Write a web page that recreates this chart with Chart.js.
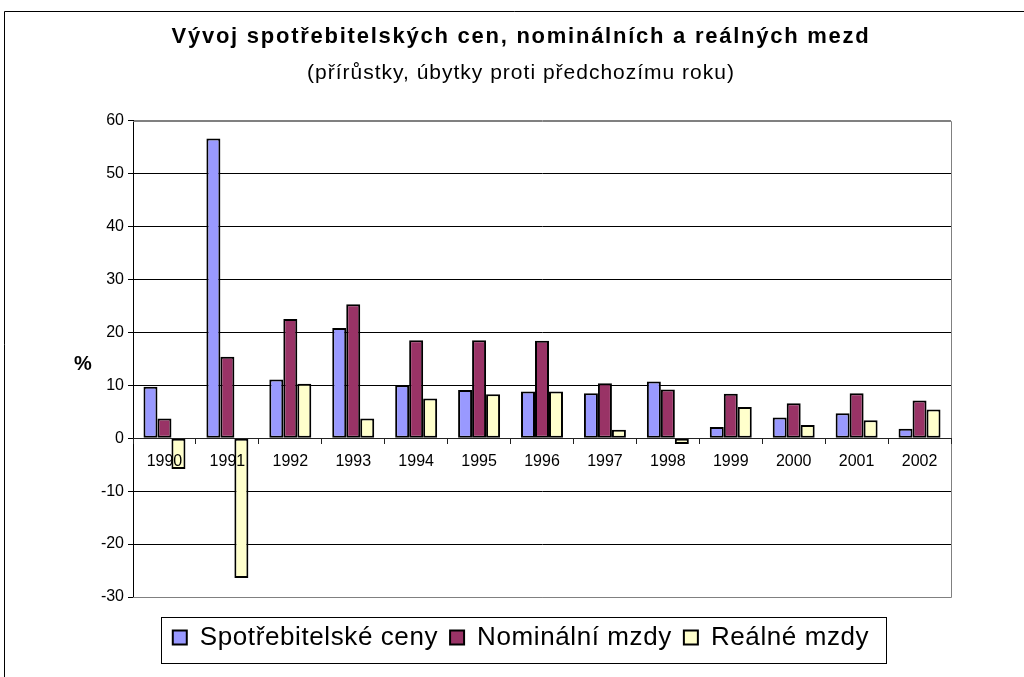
<!DOCTYPE html>
<html><head><meta charset="utf-8">
<script src="https://cdn.jsdelivr.net/npm/chart.js@4"></script>
<style>html,body{margin:0;padding:0;background:#fff;}canvas{display:block;}</style>
</head><body>
<canvas id="c" width="1024" height="677"></canvas>
<script>
// ---- data ----
const years = ['1990','1991','1992','1993','1994','1995','1996','1997','1998','1999','2000','2001','2002'];
const spotrebitelskeCeny = [9.7, 56.6, 11.1, 20.8, 10.0, 9.1, 8.8, 8.5, 10.7, 2.1, 3.9, 4.7, 1.8];
const nominalniMzdy     = [3.7, 15.4, 22.5, 25.3, 18.5, 18.5, 18.4, 10.4, 9.2, 8.4, 6.6, 8.5, 7.1];
const realneMzdy        = [-5.8, -26.4, 10.3, 3.7, 7.5, 8.3, 8.8, 1.6, -1.1, 5.9, 2.5, 3.4, 5.4];
const seriesNames = ['Spotřebitelské ceny', 'Nominální mzdy', 'Reálné mzdy'];
const yMin = -30, yMax = 60, yStep = 10;
const titleText = 'Vývoj spotřebitelských cen, nominálních a reálných mezd';
const subtitleText = '(přírůstky, úbytky proti předchozímu roku)';
const yAxisLabel = '%';

const FONT = "'Liberation Sans', Arial, Helvetica, sans-serif";
Chart.defaults.font.family = FONT;
Chart.defaults.color = '#000';

function wrapSpacing(box, spacing, methods) {
  methods.forEach(m => {
    const orig = box[m];
    if (typeof orig !== 'function') return;
    box[m] = function (...a) {
      const c = this.ctx;
      c.save();
      try { c.letterSpacing = spacing; } catch (e) {}
      const r = orig.apply(this, a);
      c.restore();
      return r;
    };
  });
}

const decor = {
  id: 'decor',
  afterInit(chart) {
    chart.boxes.forEach(b => {
      if (b === chart.titleBlock) wrapSpacing(b, '1.75px', ['draw']);
      else if (b === chart.legend) wrapSpacing(b, '0.6px', ['fit', 'draw']);
      else if (b.options && b.options.text === subtitleText) wrapSpacing(b, '1px', ['draw']);
    });
  },
  beforeDraw(chart) {
    const ctx = chart.ctx;
    ctx.save();
    ctx.fillStyle = '#fff';
    ctx.fillRect(0, 0, chart.width, chart.height);
    ctx.strokeStyle = '#000';
    ctx.lineWidth = 1;
    ctx.beginPath();
    ctx.moveTo(4.5, chart.height);
    ctx.lineTo(4.5, 11.5);
    ctx.lineTo(chart.width, 11.5);
    ctx.stroke();
    ctx.restore();
  },
  beforeDatasetsDraw(chart) {
    const {ctx, chartArea: a} = chart;
    ctx.save();
    ctx.strokeStyle = '#808080';
    ctx.lineWidth = 1;
    ctx.beginPath();
    ctx.moveTo(a.left, Math.round(a.top) + 0.5);
    ctx.lineTo(Math.round(a.right) + 0.5, Math.round(a.top) + 0.5);
    ctx.lineTo(Math.round(a.right) + 0.5, Math.round(a.bottom) + 0.5);
    ctx.lineTo(a.left, Math.round(a.bottom) + 0.5);
    ctx.stroke();
    ctx.restore();
  },
  afterDraw(chart) {
    const {ctx} = chart;
    ctx.save();
    ctx.font = 'bold 20px ' + FONT;
    ctx.fillStyle = '#000';
    ctx.textAlign = 'center';
    ctx.textBaseline = 'middle';
    ctx.fillText(yAxisLabel, 83, 364);
    // legend frame
    const lg = chart.legend;
    const hb = lg.legendHitBoxes;
    if (hb && hb.length) {
      const first = hb[0], last = hb[hb.length - 1];
      const l = Math.round(first.left - 12) + 0.5;
      const r = Math.round(last.left + last.width + 17) + 0.5;
      const t = Math.round(lg.top + 4) + 0.5;
      const b = Math.round(lg.top + 50) + 0.5;
      ctx.strokeStyle = '#000';
      ctx.lineWidth = 1;
      ctx.strokeRect(l, t, r - l, b - t);
    }
    ctx.restore();
  }
};

new Chart(document.getElementById('c'), {
  type: 'bar',
  data: {
    labels: years,
    datasets: [
      { label: seriesNames[0], data: spotrebitelskeCeny, backgroundColor: '#9999FF' },
      { label: seriesNames[1], data: nominalniMzdy, backgroundColor: '#993366' },
      { label: seriesNames[2], data: realneMzdy, backgroundColor: '#FFFFCC' }
    ]
  },
  options: {
    responsive: false,
    animation: false,
    devicePixelRatio: 1,
    layout: { padding: { left: 91, right: 73, top: 0, bottom: 16.5 } },
    datasets: {
      bar: {
        borderColor: '#000',
        borderWidth: 2,
        borderSkipped: false,
        categoryPercentage: 0.667,
        barPercentage: 1.0
      }
    },
    plugins: {
      title: {
        display: true,
        text: titleText,
        font: { size: 22, weight: 'bold', family: FONT },
        color: '#000',
        padding: { top: 24, bottom: 5 }
      },
      subtitle: {
        display: true,
        text: subtitleText,
        font: { size: 21, weight: 'normal', family: FONT },
        color: '#000',
        padding: { top: 5, bottom: 35 }
      },
      legend: {
        display: true,
        position: 'bottom',
        labels: {
          font: { size: 26, family: FONT },
          color: '#000',
          boxWidth: 14,
          boxHeight: 14,
          padding: 12
        }
      },
      tooltip: { enabled: false }
    },
    scales: {
      x: {
        type: 'category',
        position: { y: 0 },
        grid: { display: true, drawOnChartArea: false, drawTicks: true, tickLength: 5, tickColor: '#222', offset: true, z: 1 },
        border: { display: true, color: '#222', width: 1, z: 1 },
        ticks: { font: { size: 16, family: FONT }, color: '#000', padding: 9, maxRotation: 0, autoSkip: false, z: 1 }
      },
      xPad: {
        type: 'category',
        position: 'bottom',
        display: true,
        grid: { display: false },
        border: { display: false },
        ticks: { display: false },
        afterFit(s) { s.height = 15.5; }
      },
      y: {
        min: yMin,
        max: yMax,
        ticks: { stepSize: yStep, font: { size: 16, family: FONT }, color: '#000', padding: 4 },
        grid: {
          color: (c) => (c.tick && (c.tick.value === yMax || c.tick.value === yMin)) ? '#808080' : '#000',
          lineWidth: 1,
          drawTicks: true,
          tickLength: 5,
          tickColor: '#000'
        },
        border: { display: true, color: '#000', width: 1 },
        afterFit(s) { s.width = 42; }
      }
    }
  },
  plugins: [decor]
});
</script>
</body></html>
